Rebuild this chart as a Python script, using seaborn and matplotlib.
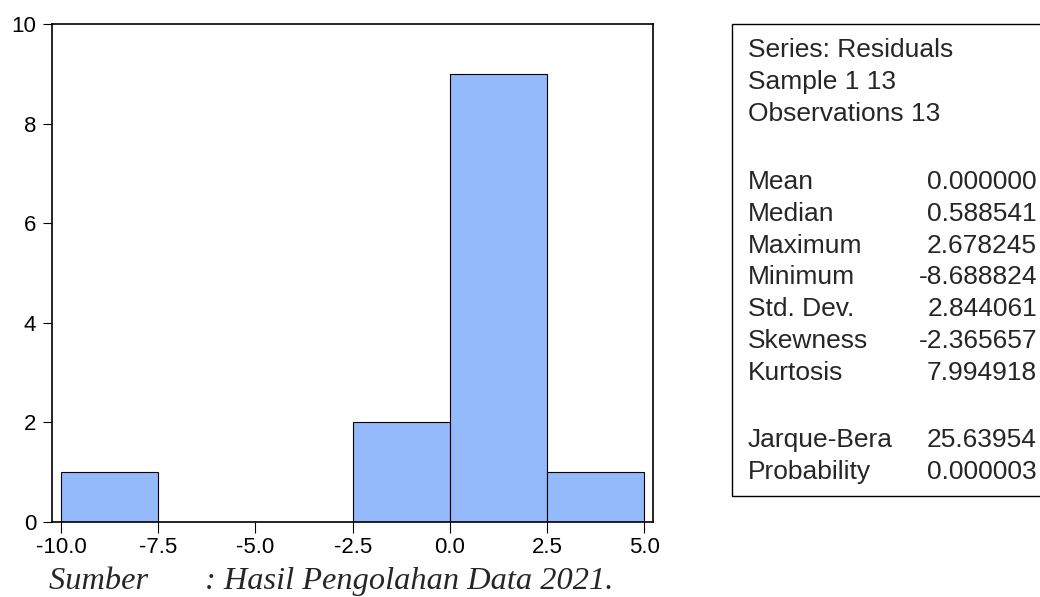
import numpy as np
import pandas as pd
import matplotlib
matplotlib.use("Agg")
import matplotlib.pyplot as plt
import seaborn as sns
from matplotlib.patches import Rectangle

# ---------------------------
# data
# ---------------------------
bin_edges = [-10.0, -7.5, -5.0, -2.5, 0.0, 2.5, 5.0]
bin_counts = [1, 0, 0, 2, 9, 1]
x_ticks = [-10.0, -7.5, -5.0, -2.5, 0.0, 2.5, 5.0]
y_ticks = [0, 2, 4, 6, 8, 10]

header_lines = ["Series: Residuals", "Sample 1 13", "Observations 13"]
stat_names = ["Mean", "Median", "Maximum", "Minimum", "Std. Dev.", "Skewness", "Kurtosis"]
stat_values = ["0.000000", "0.588541", "2.678245", "-8.688824", "2.844061", "-2.365657", "7.994918"]
test_names = ["Jarque-Bera", "Probability"]
test_values = ["25.63954", "0.000003"]

caption = "Sumber       : Hasil Pengolahan Data 2021."

centers = [(a + b) / 2 for a, b in zip(bin_edges[:-1], bin_edges[1:])]
df = pd.DataFrame({"resid": centers, "n": bin_counts})

sns.set_style("white")
plt.rcParams["font.family"] = ["Liberation Sans", "DejaVu Sans"]

W, H = 1040, 597
fig = plt.figure(figsize=(W / 100, H / 100), dpi=100)
ax = fig.add_axes([52 / W, 1 - 522 / H, (653 - 52) / W, (522 - 24) / H])

sns.histplot(data=df, x="resid", weights="n", bins=bin_edges, ax=ax,
             color="#94BAFC", alpha=1, edgecolor="black", linewidth=0.8)

ax.set_xlim(-10.23, 5.22)
ax.set_ylim(0, 10)
ax.set_xticks(x_ticks)
ax.set_xticklabels([f"{v:.1f}" for v in x_ticks])
ax.set_yticks(y_ticks)
ax.set_xlabel("")
ax.set_ylabel("")
ax.tick_params(axis="both", direction="out", width=0.8,
               labelsize=16, color="black", labelcolor="black",
               left=True, bottom=True)
ax.tick_params(axis="y", length=6.5, pad=5)
ax.tick_params(axis="x", length=8, pad=3)
for s in ax.spines.values():
    s.set_visible(True)
    s.set_color("black")
    s.set_linewidth(1.2)

# stats box
fig.patches.append(Rectangle((732 / W, 1 - 496 / H), (1100 - 732) / W, (496 - 24) / H,
                             transform=fig.transFigure, fill=False,
                             edgecolor="black", linewidth=1.0))

fs = 19
rows_y = [50, 82, 114]
for t, y in zip(header_lines, rows_y):
    fig.text(748 / W, 1 - y / H, t, fontsize=fs, va="center", ha="left")
y = 182
for n, v in zip(stat_names, stat_values):
    fig.text(748 / W, 1 - y / H, n, fontsize=fs, va="center", ha="left")
    fig.text(1037 / W, 1 - y / H, v, fontsize=fs, va="center", ha="right")
    y += 31.8
y = 440
for n, v in zip(test_names, test_values):
    fig.text(748 / W, 1 - y / H, n, fontsize=fs, va="center", ha="left")
    fig.text(1037 / W, 1 - y / H, v, fontsize=fs, va="center", ha="right")
    y += 32

fig.text(49 / W, 1 - 581 / H, caption, fontsize=23.3, style="italic",
         family=["Liberation Serif", "DejaVu Serif"], va="center", ha="left")

fig.savefig("out.png", dpi=100)
